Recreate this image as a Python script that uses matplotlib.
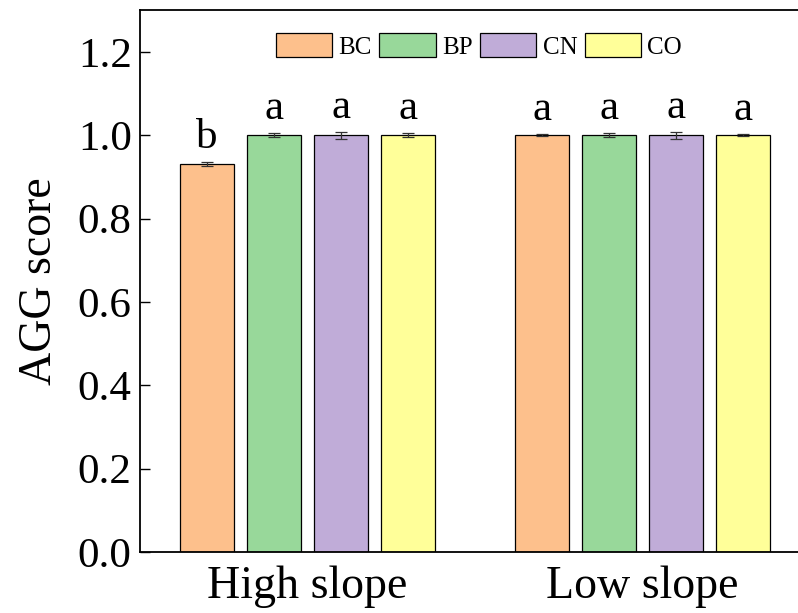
import matplotlib
matplotlib.use("Agg")
import matplotlib.pyplot as plt
import numpy as np

plt.rcParams['font.family'] = ['Liberation Serif', 'DejaVu Serif']

groups = ["High slope", "Low slope"]
treatments = ["BC", "BP", "CN", "CO"]
values = {
    "BC": [0.930, 1.000],
    "BP": [1.000, 1.000],
    "CN": [1.000, 1.000],
    "CO": [1.000, 1.000],
}
errors = {
    "BC": [0.005, 0.003],
    "BP": [0.004, 0.004],
    "CN": [0.008, 0.008],
    "CO": [0.004, 0.003],
}
letters = {
    "BC": ["b", "a"],
    "BP": ["a", "a"],
    "CN": ["a", "a"],
    "CO": ["a", "a"],
}
colors = {"BC": "#FDC08C", "BP": "#98D89A", "CN": "#C0ACD8", "CO": "#FFFF99"}

fig = plt.figure(figsize=(7.98, 6.13), dpi=100)
ax = fig.add_axes([0.1754, 0.0995, 0.8396, 0.884])

x = np.arange(len(groups))
width = 0.161
step = 0.2
for i, t in enumerate(treatments):
    pos = x + (i - 1.5) * step
    ax.bar(pos, values[t], width, color=colors[t], edgecolor="black",
           linewidth=0.9, label=t, zorder=2)
    ax.errorbar(pos, values[t], yerr=errors[t], fmt="none", ecolor="#333333",
                elinewidth=0.9, capsize=4, capthick=0.9, zorder=3)
    for p, v, e, s in zip(pos, values[t], errors[t], letters[t]):
        ax.text(p, v + e + 0.012, s, ha="center", va="bottom", fontsize=31)

ax.set_xlim(-0.5, 1.5)
ax.set_ylim(0, 1.3)
ax.set_yticks(np.arange(0, 1.21, 0.2))
ax.set_yticklabels([f"{v:.1f}" for v in np.arange(0, 1.21, 0.2)])
ax.set_xticks(x)
ax.set_xticklabels(groups)
ax.tick_params(axis="y", direction="in", length=7, width=1, labelsize=31, pad=6)
ax.tick_params(axis="x", length=0, labelsize=33, pad=10)
ax.set_ylabel("AGG score", fontsize=33, labelpad=12)
for s in ax.spines.values():
    s.set_linewidth(1.3)

ax.legend(loc="upper center", bbox_to_anchor=(0.506, 0.985), ncol=4, frameon=False,
          fontsize=18, handlelength=2.25, handleheight=1.1, handletextpad=0.25,
          columnspacing=0.3, borderaxespad=0.2)

fig.savefig("out.png", dpi=100)
